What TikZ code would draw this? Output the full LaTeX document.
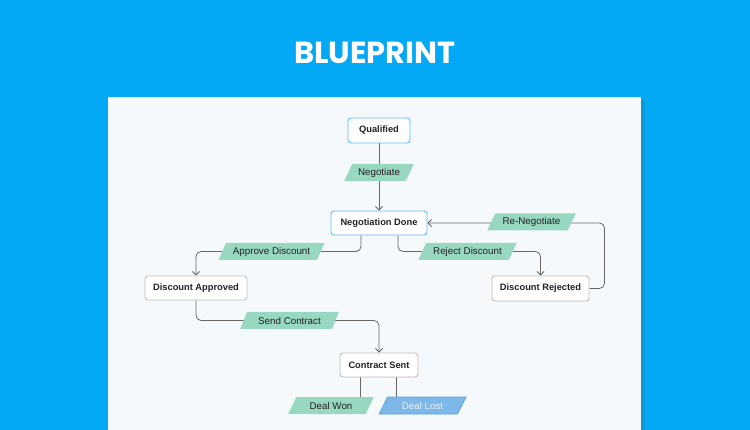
\documentclass[tikz,border=0pt]{standalone}
\usepackage{fontspec}
\setmainfont{Liberation Sans}
\newfontfamily\titlefont{Poppins}
\usetikzlibrary{shapes.geometric,arrows.meta,calc}
\pgfdeclarelayer{bg}
\pgfdeclarelayer{edges}
\pgfsetlayers{bg,edges,main}
\definecolor{skyblue}{HTML}{03A9F4}
\definecolor{skyshade}{HTML}{0898DC}
\definecolor{panel}{HTML}{F5F9FC}
\definecolor{mint}{HTML}{98D7C0}
\definecolor{lostfill}{HTML}{7DB8E8}
\definecolor{lostdraw}{HTML}{5AA6E0}
\definecolor{losttext}{HTML}{EAF3FB}
\definecolor{activeborder}{HTML}{62BDEB}
\definecolor{grayborder}{HTML}{BBBBBB}
\definecolor{linegray}{HTML}{666666}
\definecolor{ink}{HTML}{222222}
\begin{document}
\begin{tikzpicture}[x=1pt,y=-1pt,
  statebox/.style={draw=grayborder,line width=0.9pt,fill=white,rounded corners=3pt,
    inner sep=0pt,minimum height=24pt,text=ink,font=\fontsize{9.3}{11}\selectfont\bfseries},
  activebox/.style={statebox,draw=activeborder},
  transbox/.style={trapezium,trapezium left angle=55,trapezium right angle=125,
    trapezium stretches=true,fill=mint,inner sep=0pt,minimum height=17pt,
    text=ink,font=\fontsize{9.8}{11}\selectfont},
  lostbox/.style={transbox,fill=lostfill,draw=lostdraw,line width=0.8pt,text=losttext},
  flow/.style={draw=linegray,line width=0.8pt,rounded corners=5pt},
  arrowflow/.style={flow,-{Straight Barb[length=3.5pt,width=7pt]}}
]
\useasboundingbox (0,0) rectangle (750,430);
\begin{pgfonlayer}{bg}
  \fill[skyblue] (0,0) rectangle (750,430);
  \fill[skyshade] (111,100) rectangle (645,430);
  \fill[panel] (108,97) rectangle (641,430);
\end{pgfonlayer}
\node[text=white,font=\titlefont\fontsize{30.5}{33}\selectfont\bfseries] (title) at (375,52.5) {BLUEPRINT};

\node[activebox,minimum width=62pt,minimum height=25pt] (q) at (379,130.5) {Qualified};
\node[transbox,minimum width=70pt] (neg) at (379,172.5) {Negotiate};
\node[activebox,minimum width=96pt] (nd) at (379,223) {Negotiation Done};
\node[transbox,minimum width=89pt] (ren) at (531.5,222) {Re-Negotiate};
\node[transbox,minimum width=99pt] (rej) at (467.5,251.5) {Reject Discount};
\node[transbox,minimum width=107pt] (app) at (271.5,251.5) {Approve Discount};
\node[statebox,minimum width=97pt,minimum height=25pt] (dr) at (540.5,288.5) {Discount Rejected};
\node[statebox,minimum width=102pt] (da) at (196,288) {Discount Approved};
\node[transbox,minimum width=99pt] (sc) at (289.5,320.5) {Send Contract};
\node[statebox,minimum width=78pt] (cs) at (379,365) {Contract Sent};
\node[transbox,minimum width=86pt] (dw) at (331,405.5) {Deal Won};
\node[lostbox,minimum width=87pt] (dl) at (422.5,405.5) {Deal Lost};

\begin{pgfonlayer}{edges}
  \draw[arrowflow] (q.south) -- (nd.north);
  \draw[arrowflow] (dr.east) -- ++(15,0) |- (nd.east);
  \draw[arrowflow] ([xshift=19pt]nd.south) |- (rej.center) -| (dr.north);
  \draw[arrowflow] ([xshift=-18pt]nd.south) |- (app.center) -| (da.north);
  \draw[arrowflow] (da.south) |- (sc.center) -| (cs.north);
  \draw[flow] ([xshift=-19pt]cs.south) -- ([xshift=-19pt]cs.south |- dw.north);
  \draw[flow] ([xshift=17pt]cs.south) -- ([xshift=17pt]cs.south |- dl.north);
\end{pgfonlayer}
\end{tikzpicture}
\end{document}
